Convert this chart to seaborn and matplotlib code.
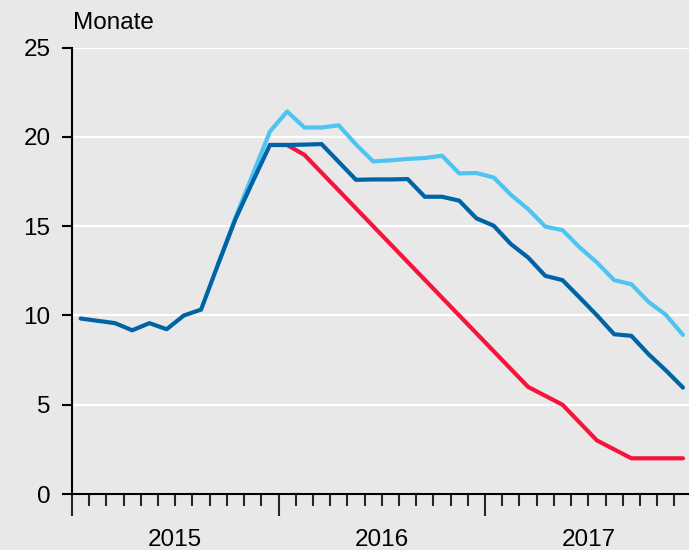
import numpy as np
import pandas as pd
import matplotlib.pyplot as plt
import seaborn as sns

# Monatswerte Jan 2015 - Dez 2017 (36 Monate)
year_labels = ['2015', '2016', '2017']
month_idx = np.arange(36)

dunkelblau = [9.83, 9.7, 9.57, 9.17, 9.57, 9.23, 10.0, 10.33, 12.9, 15.4, 17.5, 19.55,
              19.55, 19.57, 19.6, 18.6, 17.6, 17.62, 17.62, 17.64, 16.65, 16.65, 16.43, 15.44,
              15.03, 14.0, 13.25, 12.22, 11.98, 11.0, 10.01, 8.95, 8.86, 7.83, 6.93, 5.96]
hellblau = [None, None, None, None, None, None, None, None, 12.9, 15.5, 17.9, 20.3,
            21.43, 20.53, 20.53, 20.65, 19.58, 18.63, 18.69, 18.77, 18.82, 18.95, 17.96, 17.98,
            17.73, 16.76, 15.96, 14.98, 14.78, 13.81, 12.97, 11.98, 11.75, 10.76, 10.04, 8.91]
rot = [None, None, None, None, None, None, None, None, None, None, None, 19.55,
       19.55, 19.0, 18.0, 17.0, 16.0, 15.0, 14.0, 13.0, 12.0, 11.0, 10.0, 9.0,
       8.0, 7.0, 6.0, 5.5, 5.0, 4.0, 3.0, 2.5, 2.0, 2.0, 2.0, 2.0]

series = {'hell': hellblau, 'rot': rot, 'dunkel': dunkelblau}
colors = {'hell': '#4fc4f2', 'rot': '#f5143c', 'dunkel': '#0063a5'}

frames = []
for name, vals in series.items():
    frames.append(pd.DataFrame({'Monat': month_idx + 0.5,
                                'Monate': pd.array(vals, dtype='Float64').astype(float),
                                'Reihe': name}))
df = pd.concat(frames, ignore_index=True).dropna()

bg = '#e8e8e8'
sns.set_theme(style='white', rc={'axes.facecolor': bg, 'figure.facecolor': bg})
plt.rcParams['font.family'] = ['Liberation Sans', 'DejaVu Sans']

fig = plt.figure(figsize=(6.89, 5.5), dpi=100)
ax = fig.add_axes([0.1045, 0.1018, 0.8955, 0.8115])

sns.lineplot(data=df, x='Monat', y='Monate', hue='Reihe', hue_order=['hell', 'rot', 'dunkel'],
             palette=colors, linewidth=3, legend=False, ax=ax)

ax.set_xlim(0, 35.85)
ax.set_ylim(0, 25)
ax.set_xlabel('')
ax.set_ylabel('')

# y axis
ax.set_yticks(range(0, 26, 5))
ax.tick_params(axis='y', length=7.5, width=1.5, pad=8, labelsize=17.5, colors='black', left=True)
ax.yaxis.grid(True, color='white', linewidth=1.6)
ax.xaxis.grid(False)
ax.set_axisbelow(True)

# x axis: long ticks at year start, short ticks for months
ax.set_xticks([0, 12, 24])
ax.set_xticklabels([])
ax.set_xticks([m for m in range(1, 36) if m % 12], minor=True)
ax.tick_params(axis='x', which='major', length=16, width=1.5, direction='out', bottom=True)
ax.tick_params(axis='x', which='minor', length=8.6, width=1.5, direction='out', bottom=True)
for i, lab in enumerate(year_labels):
    ax.text(12 * i + 6, -0.1165, lab, transform=ax.get_xaxis_transform(),
            ha='center', va='baseline', fontsize=17.5, color='black')

for s in ['top', 'right']:
    ax.spines[s].set_visible(False)
for s in ['left', 'bottom']:
    ax.spines[s].set_color('black')
    ax.spines[s].set_linewidth(1.5)

fig.text(0.106, 0.947, 'Monate', fontsize=17.5, va='baseline', ha='left', color='black')

fig.savefig('out.png', dpi=100, facecolor=fig.get_facecolor())
